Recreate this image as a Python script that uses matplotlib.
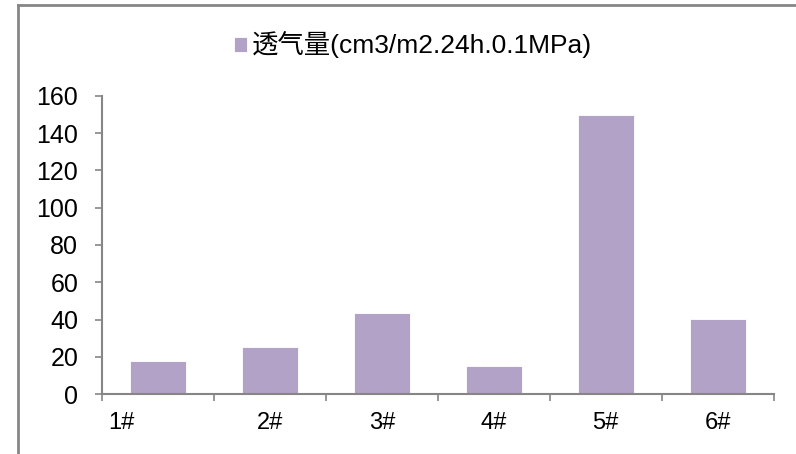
import matplotlib.pyplot as plt
import matplotlib.transforms as mtransforms
from matplotlib.lines import Line2D

plt.rcParams['font.family'] = ['Liberation Sans', 'Noto Sans CJK SC', 'DejaVu Sans']

# data
samples = ["1#", "2#", "3#", "4#", "5#", "6#"]
permeability = [17.7, 25.4, 43.3, 15.0, 149.8, 40.3]
series_name = "透气量(cm3/m2.24h.0.1MPa)"

bar_color = "#B3A2C7"
axis_color = "#868686"

fig = plt.figure(figsize=(7.96, 4.54), dpi=100)
ax = fig.add_axes([0.128, 0.132, 0.844, 0.657])

x = list(range(len(samples)))
ax.bar(x, permeability, width=0.5, color=bar_color, edgecolor="white",
       linewidth=0.6, label=series_name)

ax.set_xlim(-0.5, len(samples) - 0.5)
ax.set_ylim(0, 160)
ax.set_yticks(range(0, 161, 20))

# category labels at centres, tick marks at boundaries
ax.set_xticks(x)
ax.set_xticklabels(samples)
ax.set_xticks([i - 0.5 for i in range(len(samples) + 1)], minor=True)
ax.tick_params(axis="x", which="major", length=0, pad=13, labelsize=17)
ax.tick_params(axis="x", which="minor", length=5, width=1.2, color=axis_color, direction="out")
ax.tick_params(axis="y", length=5, width=1.2, color=axis_color, pad=12, labelsize=18)

# first label sits a bit to the left in the original
lbl = ax.get_xticklabels()[0]
lbl.set_transform(lbl.get_transform() + mtransforms.ScaledTranslation(-0.36, 0, fig.dpi_scale_trans))

for side in ["top", "right"]:
    ax.spines[side].set_visible(False)
for side in ["left", "bottom"]:
    ax.spines[side].set_color(axis_color)
    ax.spines[side].set_linewidth(1.5)

fig.legend(loc="center", bbox_to_anchor=(0.519, 0.901), frameon=False,
           fontsize=19, handlelength=0.5, handleheight=0.5, handletextpad=0.2)

# outer chart frame (top and left edges)
fig.add_artist(Line2D([0.023, 1.0], [0.989, 0.989], transform=fig.transFigure,
                      color=axis_color, linewidth=2))
fig.add_artist(Line2D([0.023, 0.023], [0.0, 0.989], transform=fig.transFigure,
                      color=axis_color, linewidth=2))

fig.savefig("out.png", dpi=100)
